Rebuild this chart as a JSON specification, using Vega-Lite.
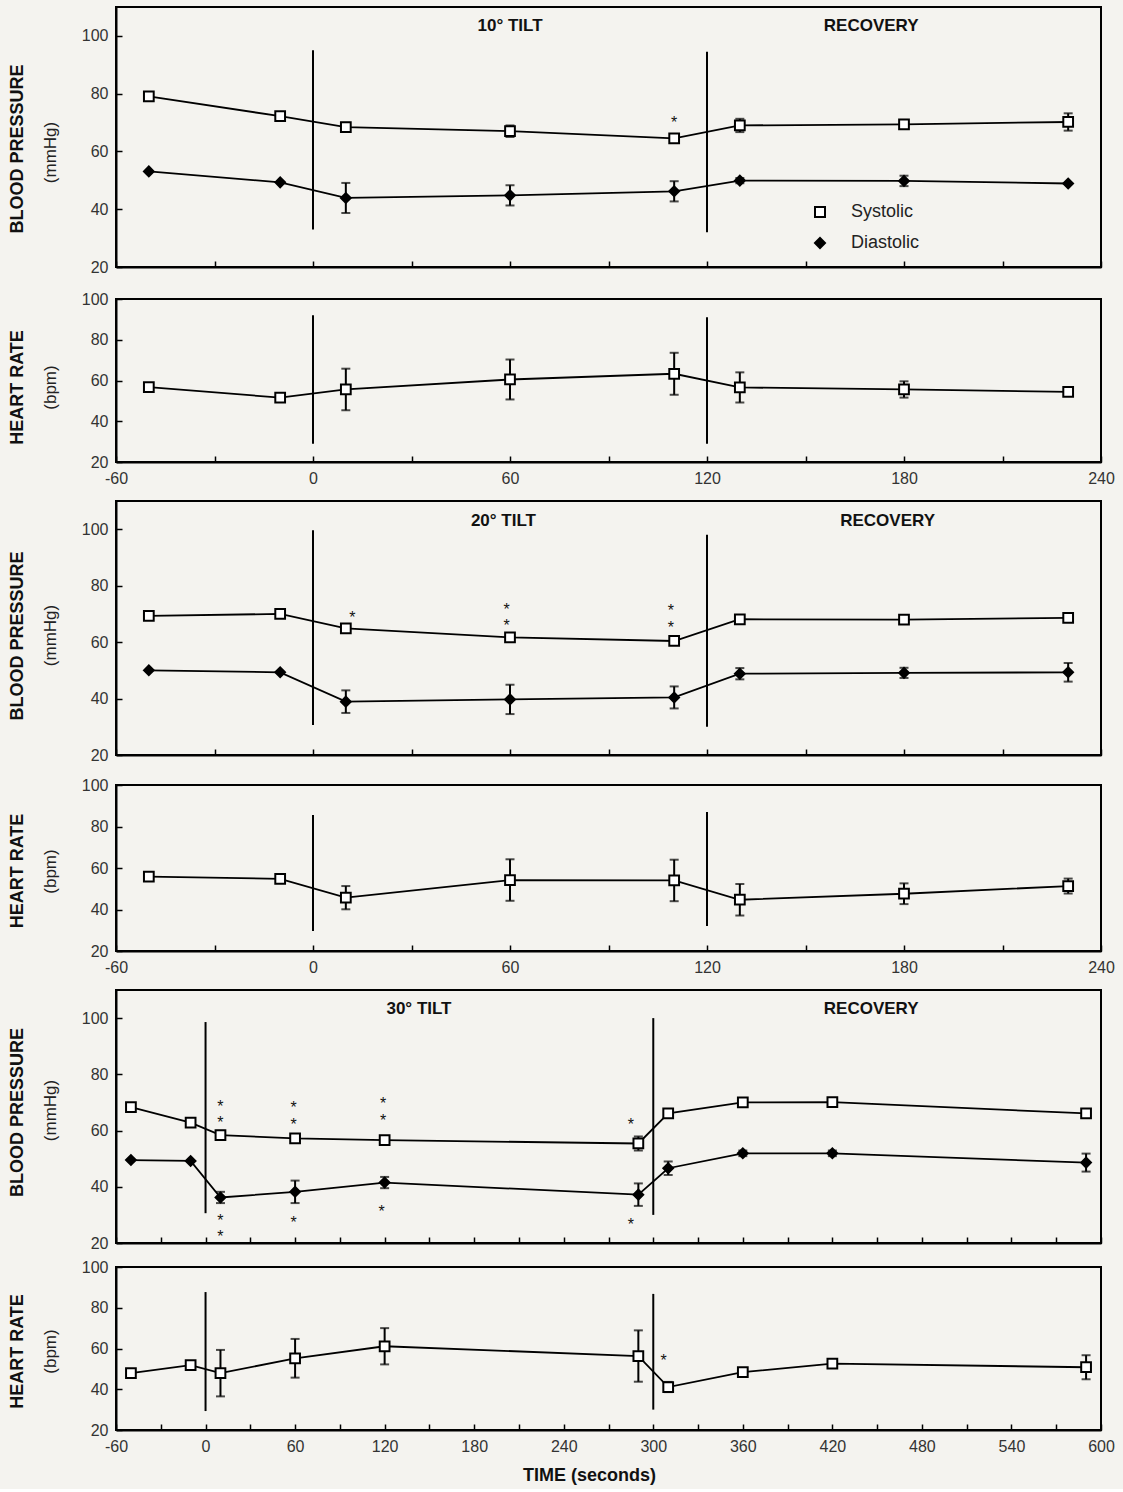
{
 "$schema": "https://vega.github.io/schema/vega-lite/v6.json",
 "background": "#f4f3ef",
 "padding": {"left": 8, "top": 6, "right": 10, "bottom": 4},
 "config": {
  "font": "Liberation Sans",
  "view": {"stroke": "black", "strokeWidth": 2},
  "axis": {"domainColor": "black", "domainWidth": 2, "tickColor": "black", "tickWidth": 1.5, "tickSize": -6, "labelPadding": 14, "labelFontSize": 16, "labelColor": "#333", "grid": false, "labelFont": "Liberation Sans", "titleFont": "Liberation Sans", "labelFlush": false, "labelOverlap": false, "titleFontWeight": "normal", "titleFontSize": 17, "titleColor": "#222", "titlePadding": 22},
  "title": {"font": "Liberation Sans", "fontSize": 18, "fontWeight": "bold", "color": "#111", "offset": 14, "orient": "left"}
 },
 "datasets": {
  "pts": [
   {"p":"bp10","s":"Systolic","t":-50,"v":79.1},
   {"p":"bp10","s":"Systolic","t":-10,"v":72.2},
   {"p":"bp10","s":"Systolic","t":10,"v":68.4,"lo":66.9,"hi":69.9},
   {"p":"bp10","s":"Systolic","t":60,"v":67,"lo":65,"hi":69},
   {"p":"bp10","s":"Systolic","t":110,"v":64.5,"lo":63.5,"hi":65.5},
   {"p":"bp10","s":"Systolic","t":130,"v":69,"lo":66.7,"hi":71.3},
   {"p":"bp10","s":"Systolic","t":180,"v":69.4,"lo":67.9,"hi":70.9},
   {"p":"bp10","s":"Systolic","t":230,"v":70.2,"lo":67.2,"hi":73.2},
   {"p":"bp10","s":"Diastolic","t":-50,"v":53.1},
   {"p":"bp10","s":"Diastolic","t":-10,"v":49.3},
   {"p":"bp10","s":"Diastolic","t":10,"v":43.9,"lo":38.7,"hi":49.1},
   {"p":"bp10","s":"Diastolic","t":60,"v":44.8,"lo":41.3,"hi":48.3},
   {"p":"bp10","s":"Diastolic","t":110,"v":46.2,"lo":42.7,"hi":49.7},
   {"p":"bp10","s":"Diastolic","t":130,"v":49.9,"lo":49,"hi":50.8},
   {"p":"bp10","s":"Diastolic","t":180,"v":49.8,"lo":48,"hi":51.6},
   {"p":"bp10","s":"Diastolic","t":230,"v":48.9},
   {"p":"hr10","s":"HR","t":-50,"v":56.7},
   {"p":"hr10","s":"HR","t":-10,"v":51.6},
   {"p":"hr10","s":"HR","t":10,"v":55.6,"lo":45.4,"hi":65.8},
   {"p":"hr10","s":"HR","t":60,"v":60.5,"lo":50.7,"hi":70.3},
   {"p":"hr10","s":"HR","t":110,"v":63.3,"lo":53,"hi":73.6},
   {"p":"hr10","s":"HR","t":130,"v":56.6,"lo":49.2,"hi":64},
   {"p":"hr10","s":"HR","t":180,"v":55.6,"lo":51.6,"hi":59.6},
   {"p":"hr10","s":"HR","t":230,"v":54.4,"lo":52.9,"hi":55.9},
   {"p":"bp20","s":"Systolic","t":-50,"v":69.3},
   {"p":"bp20","s":"Systolic","t":-10,"v":70},
   {"p":"bp20","s":"Systolic","t":10,"v":64.9},
   {"p":"bp20","s":"Systolic","t":60,"v":61.7},
   {"p":"bp20","s":"Systolic","t":110,"v":60.4,"lo":59.4,"hi":61.4},
   {"p":"bp20","s":"Systolic","t":130,"v":68.1},
   {"p":"bp20","s":"Systolic","t":180,"v":68},
   {"p":"bp20","s":"Systolic","t":230,"v":68.6},
   {"p":"bp20","s":"Diastolic","t":-50,"v":50},
   {"p":"bp20","s":"Diastolic","t":-10,"v":49.3},
   {"p":"bp20","s":"Diastolic","t":10,"v":38.9,"lo":34.9,"hi":42.9},
   {"p":"bp20","s":"Diastolic","t":60,"v":39.7,"lo":34.5,"hi":44.9},
   {"p":"bp20","s":"Diastolic","t":110,"v":40.4,"lo":36.5,"hi":44.3},
   {"p":"bp20","s":"Diastolic","t":130,"v":48.8,"lo":46.8,"hi":50.8},
   {"p":"bp20","s":"Diastolic","t":180,"v":49.1,"lo":47.3,"hi":50.9},
   {"p":"bp20","s":"Diastolic","t":230,"v":49.3,"lo":46,"hi":52.6},
   {"p":"hr20","s":"HR","t":-50,"v":55.8},
   {"p":"hr20","s":"HR","t":-10,"v":54.8},
   {"p":"hr20","s":"HR","t":10,"v":45.7,"lo":40.1,"hi":51.3},
   {"p":"hr20","s":"HR","t":60,"v":54.2,"lo":44.2,"hi":64.2},
   {"p":"hr20","s":"HR","t":110,"v":54,"lo":44,"hi":64},
   {"p":"hr20","s":"HR","t":130,"v":44.7,"lo":37.1,"hi":52.3},
   {"p":"hr20","s":"HR","t":180,"v":47.6,"lo":42.6,"hi":52.6},
   {"p":"hr20","s":"HR","t":230,"v":51.3,"lo":47.7,"hi":54.9},
   {"p":"bp30","s":"Systolic","t":-50,"v":68.3},
   {"p":"bp30","s":"Systolic","t":-10,"v":62.8},
   {"p":"bp30","s":"Systolic","t":10,"v":58.4,"lo":56.9,"hi":59.9},
   {"p":"bp30","s":"Systolic","t":60,"v":57.2,"lo":55.9,"hi":58.5},
   {"p":"bp30","s":"Systolic","t":120,"v":56.6},
   {"p":"bp30","s":"Systolic","t":290,"v":55.4,"lo":52.9,"hi":57.9},
   {"p":"bp30","s":"Systolic","t":310,"v":66.1},
   {"p":"bp30","s":"Systolic","t":360,"v":70},
   {"p":"bp30","s":"Systolic","t":420,"v":70.1},
   {"p":"bp30","s":"Systolic","t":590,"v":66.1,"lo":64.6,"hi":67.6},
   {"p":"bp30","s":"Diastolic","t":-50,"v":49.5},
   {"p":"bp30","s":"Diastolic","t":-10,"v":49.2},
   {"p":"bp30","s":"Diastolic","t":10,"v":36.2,"lo":34.2,"hi":38.2},
   {"p":"bp30","s":"Diastolic","t":60,"v":38.2,"lo":34.2,"hi":42.2},
   {"p":"bp30","s":"Diastolic","t":120,"v":41.5,"lo":39.5,"hi":43.5},
   {"p":"bp30","s":"Diastolic","t":290,"v":37.2,"lo":33.2,"hi":41.2},
   {"p":"bp30","s":"Diastolic","t":310,"v":46.6,"lo":44.2,"hi":49},
   {"p":"bp30","s":"Diastolic","t":360,"v":51.9,"lo":50.9,"hi":52.9},
   {"p":"bp30","s":"Diastolic","t":420,"v":51.9,"lo":50.9,"hi":52.9},
   {"p":"bp30","s":"Diastolic","t":590,"v":48.6,"lo":45.4,"hi":51.8},
   {"p":"hr30","s":"HR","t":-50,"v":47.9},
   {"p":"hr30","s":"HR","t":-10,"v":51.8},
   {"p":"hr30","s":"HR","t":10,"v":47.9,"lo":36.5,"hi":59.3},
   {"p":"hr30","s":"HR","t":60,"v":55.2,"lo":45.7,"hi":64.7},
   {"p":"hr30","s":"HR","t":120,"v":61.1,"lo":52.2,"hi":70},
   {"p":"hr30","s":"HR","t":290,"v":56.3,"lo":43.7,"hi":68.9},
   {"p":"hr30","s":"HR","t":310,"v":41.1,"lo":38.6,"hi":43.6},
   {"p":"hr30","s":"HR","t":360,"v":48.4,"lo":46.9,"hi":49.9},
   {"p":"hr30","s":"HR","t":420,"v":52.6},
   {"p":"hr30","s":"HR","t":590,"v":50.8,"lo":44.9,"hi":56.7}
  ],
  "bars": [
   {"p":"bp10","t":0,"y1":33,"y2":95},
   {"p":"bp10","t":120,"y1":32,"y2":94.5},
   {"p":"hr10","t":0,"y1":29,"y2":92},
   {"p":"hr10","t":120,"y1":29,"y2":91},
   {"p":"bp20","t":0,"y1":30.6,"y2":99.6},
   {"p":"bp20","t":120,"y1":30,"y2":98},
   {"p":"hr20","t":0,"y1":29.6,"y2":85.5},
   {"p":"hr20","t":120,"y1":32,"y2":87},
   {"p":"bp30","t":0,"y1":30.6,"y2":98.6},
   {"p":"bp30","t":300,"y1":30,"y2":100},
   {"p":"hr30","t":0,"y1":29.3,"y2":87.7},
   {"p":"hr30","t":300,"y1":30,"y2":86.8}
  ],
  "heads": [
   {"p":"bp10","t":60,"v":103.5,"label":"10° TILT"},
   {"p":"bp10","t":170,"v":103.5,"label":"RECOVERY"},
   {"p":"bp20","t":58,"v":103,"label":"20° TILT"},
   {"p":"bp20","t":175,"v":103,"label":"RECOVERY"},
   {"p":"bp30","t":143,"v":103.3,"label":"30° TILT"},
   {"p":"bp30","t":446,"v":103.3,"label":"RECOVERY"}
  ],
  "stars": [
   {"p":"bp10","t":110,"v":71.5},
   {"p":"bp20","t":12,"v":70.2},
   {"p":"bp20","t":59,"v":73.1},
   {"p":"bp20","t":59,"v":67.4},
   {"p":"bp20","t":109,"v":72.5},
   {"p":"bp20","t":109,"v":66.6},
   {"p":"bp30","t":10,"v":70},
   {"p":"bp30","t":10,"v":64.3},
   {"p":"bp30","t":10,"v":29.5},
   {"p":"bp30","t":10,"v":23.6},
   {"p":"bp30","t":59,"v":69.5},
   {"p":"bp30","t":59,"v":63.7},
   {"p":"bp30","t":59,"v":28.7},
   {"p":"bp30","t":119,"v":70.9},
   {"p":"bp30","t":119,"v":64.9},
   {"p":"bp30","t":118,"v":32.6},
   {"p":"bp30","t":285,"v":63.7},
   {"p":"bp30","t":285,"v":28.1},
   {"p":"hr30","t":307,"v":56.3}
  ]
 },
 "spacing": 13,
 "resolve": {"scale": {"shape": "independent", "fill": "independent", "stroke": "independent"}},
 "vconcat": [
  {
   "spacing": 14,
   "resolve": {"scale": {"shape": "independent", "fill": "independent", "stroke": "independent"}},
   "vconcat": [
    {
     "width": 985, "height": 260,
     "title": {"text": "BLOOD PRESSURE", "dx": -12},
     "layer": [
      {"data": {"name": "bars"}, "transform": [{"filter": "datum.p == 'bp10'"}],
       "mark": {"type": "rule", "color": "black", "strokeWidth": 2},
       "encoding": {
        "x": {"field": "t", "type": "quantitative", "scale": {"domain": [-60, 240], "nice": false, "zero": false}, "axis": {"values": [-60,-30,0,30,60,90,120,150,180,210,240], "labels": false, "title": null}},
        "y": {"field": "y1", "type": "quantitative", "title": "(mmHg)", "scale": {"domain": [20, 110], "nice": false, "zero": false}, "axis": {"values": [20,30,40,50,60,70,80,90,100], "labelOverlap": false, "labelExpr": "datum.value % 20 === 0 ? '' + datum.value : ''", "title": "(mmHg)", "titleY": 145}},
        "y2": {"field": "y2"}}},
      {"data": {"name": "pts"}, "transform": [{"filter": "datum.p == 'bp10' && isValid(datum.lo)"}],
       "mark": {"type": "errorbar", "ticks": {"size": 9, "thickness": 2, "color": "black"}, "rule": {"strokeWidth": 2, "color": "black"}},
       "encoding": {"x": {"field": "t", "type": "quantitative"}, "y": {"field": "lo", "type": "quantitative", "title": "(mmHg)"}, "y2": {"field": "hi"}}},
      {"data": {"name": "pts"}, "transform": [{"filter": "datum.p == 'bp10'"}],
       "mark": {"type": "line", "color": "black", "strokeWidth": 1.8},
       "encoding": {"x": {"field": "t", "type": "quantitative"}, "y": {"field": "v", "type": "quantitative", "title": "(mmHg)"}, "detail": {"field": "s"}}},
      {"data": {"name": "pts"}, "transform": [{"filter": "datum.p == 'bp10'"}],
       "mark": {"type": "point", "filled": true, "strokeWidth": 2, "size": 95, "opacity": 1},
       "encoding": {"x": {"field": "t", "type": "quantitative"}, "y": {"field": "v", "type": "quantitative", "title": "(mmHg)"},
        "shape": {"field": "s", "type": "nominal", "scale": {"domain": ["Systolic", "Diastolic"], "range": ["square", "diamond"]}, "legend": {"orient": "none", "legendX": 695, "legendY": 196, "title": null, "labelFontSize": 18, "labelColor": "#222", "symbolSize": 100, "symbolStrokeWidth": 2, "rowPadding": 13, "labelOffset": 22}},
        "fill": {"field": "s", "type": "nominal", "scale": {"domain": ["Systolic", "Diastolic"], "range": ["white", "black"]}, "legend": {"orient": "none", "legendX": 695, "legendY": 196, "title": null, "labelFontSize": 18, "labelColor": "#222", "symbolSize": 100, "symbolStrokeWidth": 2, "rowPadding": 13, "labelOffset": 22}},
        "stroke": {"field": "s", "type": "nominal", "scale": {"domain": ["Systolic", "Diastolic"], "range": ["black", "black"]}, "legend": {"orient": "none", "legendX": 695, "legendY": 196, "title": null, "labelFontSize": 18, "labelColor": "#222", "symbolSize": 100, "symbolStrokeWidth": 2, "rowPadding": 13, "labelOffset": 22}}}},
      {"data": {"name": "heads"}, "transform": [{"filter": "datum.p == 'bp10'"}],
       "mark": {"type": "text", "fontWeight": "bold", "fontSize": 17, "color": "#111"},
       "encoding": {"x": {"field": "t", "type": "quantitative"}, "y": {"field": "v", "type": "quantitative", "title": "(mmHg)"}, "text": {"field": "label"}}},
      {"data": {"name": "stars"}, "transform": [{"filter": "datum.p == 'bp10'"}],
       "mark": {"type": "text", "fontSize": 16, "dy": 4.5, "color": "#111"},
       "encoding": {"x": {"field": "t", "type": "quantitative"}, "y": {"field": "v", "type": "quantitative", "title": "(mmHg)"}, "text": {"value": "*"}}}
     ]
    },
    {
     "width": 985, "height": 163,
     "title": {"text": "HEART RATE", "dx": -7},
     "layer": [
      {"data": {"name": "bars"}, "transform": [{"filter": "datum.p == 'hr10'"}],
       "mark": {"type": "rule", "color": "black", "strokeWidth": 2},
       "encoding": {
        "x": {"field": "t", "type": "quantitative", "scale": {"domain": [-60, 240], "nice": false, "zero": false}, "axis": {"values": [-60,-30,0,30,60,90,120,150,180,210,240], "labelOverlap": false, "labelExpr": "datum.value % 60 === 0 ? '' + datum.value : ''", "title": null}},
        "y": {"field": "y1", "type": "quantitative", "title": "(bpm)", "scale": {"domain": [20, 100], "nice": false, "zero": false}, "axis": {"values": [20,30,40,50,60,70,80,90,100], "labelOverlap": false, "labelExpr": "datum.value % 20 === 0 ? '' + datum.value : ''", "title": "(bpm)", "titleY": 88}},
        "y2": {"field": "y2"}}},
      {"data": {"name": "pts"}, "transform": [{"filter": "datum.p == 'hr10' && isValid(datum.lo)"}],
       "mark": {"type": "errorbar", "ticks": {"size": 9, "thickness": 2, "color": "black"}, "rule": {"strokeWidth": 2, "color": "black"}},
       "encoding": {"x": {"field": "t", "type": "quantitative"}, "y": {"field": "lo", "type": "quantitative", "title": "(bpm)"}, "y2": {"field": "hi"}}},
      {"data": {"name": "pts"}, "transform": [{"filter": "datum.p == 'hr10'"}],
       "mark": {"type": "line", "color": "black", "strokeWidth": 1.8},
       "encoding": {"x": {"field": "t", "type": "quantitative"}, "y": {"field": "v", "type": "quantitative", "title": "(bpm)"}}},
      {"data": {"name": "pts"}, "transform": [{"filter": "datum.p == 'hr10'"}],
       "mark": {"type": "point", "shape": "square", "filled": true, "fill": "white", "stroke": "black", "strokeWidth": 2, "size": 95, "opacity": 1},
       "encoding": {"x": {"field": "t", "type": "quantitative"}, "y": {"field": "v", "type": "quantitative", "title": "(bpm)"}}}
     ]
    }
   ]
  },
  {
   "spacing": 12,
   "resolve": {"scale": {"shape": "independent", "fill": "independent", "stroke": "independent"}},
   "vconcat": [
    {
     "width": 985, "height": 254,
     "title": {"text": "BLOOD PRESSURE", "dx": -8},
     "layer": [
      {"data": {"name": "bars"}, "transform": [{"filter": "datum.p == 'bp20'"}],
       "mark": {"type": "rule", "color": "black", "strokeWidth": 2},
       "encoding": {
        "x": {"field": "t", "type": "quantitative", "scale": {"domain": [-60, 240], "nice": false, "zero": false}, "axis": {"values": [-60,-30,0,30,60,90,120,150,180,210,240], "labels": false, "title": null}},
        "y": {"field": "y1", "type": "quantitative", "title": "(mmHg)", "scale": {"domain": [20, 110], "nice": false, "zero": false}, "axis": {"values": [20,30,40,50,60,70,80,90,100], "labelOverlap": false, "labelExpr": "datum.value % 20 === 0 ? '' + datum.value : ''", "title": "(mmHg)", "titleY": 134}},
        "y2": {"field": "y2"}}},
      {"data": {"name": "pts"}, "transform": [{"filter": "datum.p == 'bp20' && isValid(datum.lo)"}],
       "mark": {"type": "errorbar", "ticks": {"size": 9, "thickness": 2, "color": "black"}, "rule": {"strokeWidth": 2, "color": "black"}},
       "encoding": {"x": {"field": "t", "type": "quantitative"}, "y": {"field": "lo", "type": "quantitative", "title": "(mmHg)"}, "y2": {"field": "hi"}}},
      {"data": {"name": "pts"}, "transform": [{"filter": "datum.p == 'bp20'"}],
       "mark": {"type": "line", "color": "black", "strokeWidth": 1.8},
       "encoding": {"x": {"field": "t", "type": "quantitative"}, "y": {"field": "v", "type": "quantitative", "title": "(mmHg)"}, "detail": {"field": "s"}}},
      {"data": {"name": "pts"}, "transform": [{"filter": "datum.p == 'bp20'"}],
       "mark": {"type": "point", "filled": true, "stroke": "black", "strokeWidth": 2, "size": 95, "opacity": 1},
       "encoding": {"x": {"field": "t", "type": "quantitative"}, "y": {"field": "v", "type": "quantitative", "title": "(mmHg)"},
        "shape": {"field": "s", "type": "nominal", "scale": {"domain": ["Systolic", "Diastolic"], "range": ["square", "diamond"]}, "legend": null},
        "fill": {"field": "s", "type": "nominal", "scale": {"domain": ["Systolic", "Diastolic"], "range": ["white", "black"]}, "legend": null}}},
      {"data": {"name": "heads"}, "transform": [{"filter": "datum.p == 'bp20'"}],
       "mark": {"type": "text", "fontWeight": "bold", "fontSize": 17, "color": "#111"},
       "encoding": {"x": {"field": "t", "type": "quantitative"}, "y": {"field": "v", "type": "quantitative", "title": "(mmHg)"}, "text": {"field": "label"}}},
      {"data": {"name": "stars"}, "transform": [{"filter": "datum.p == 'bp20'"}],
       "mark": {"type": "text", "fontSize": 16, "dy": 4.5, "color": "#111"},
       "encoding": {"x": {"field": "t", "type": "quantitative"}, "y": {"field": "v", "type": "quantitative", "title": "(mmHg)"}, "text": {"value": "*"}}}
     ]
    },
    {
     "width": 985, "height": 166,
     "title": {"text": "HEART RATE", "dx": -3},
     "layer": [
      {"data": {"name": "bars"}, "transform": [{"filter": "datum.p == 'hr20'"}],
       "mark": {"type": "rule", "color": "black", "strokeWidth": 2},
       "encoding": {
        "x": {"field": "t", "type": "quantitative", "scale": {"domain": [-60, 240], "nice": false, "zero": false}, "axis": {"values": [-60,-30,0,30,60,90,120,150,180,210,240], "labelOverlap": false, "labelExpr": "datum.value % 60 === 0 ? '' + datum.value : ''", "title": null}},
        "y": {"field": "y1", "type": "quantitative", "title": "(bpm)", "scale": {"domain": [20, 100], "nice": false, "zero": false}, "axis": {"values": [20,30,40,50,60,70,80,90,100], "labelOverlap": false, "labelExpr": "datum.value % 20 === 0 ? '' + datum.value : ''", "title": "(bpm)", "titleY": 86}},
        "y2": {"field": "y2"}}},
      {"data": {"name": "pts"}, "transform": [{"filter": "datum.p == 'hr20' && isValid(datum.lo)"}],
       "mark": {"type": "errorbar", "ticks": {"size": 9, "thickness": 2, "color": "black"}, "rule": {"strokeWidth": 2, "color": "black"}},
       "encoding": {"x": {"field": "t", "type": "quantitative"}, "y": {"field": "lo", "type": "quantitative", "title": "(bpm)"}, "y2": {"field": "hi"}}},
      {"data": {"name": "pts"}, "transform": [{"filter": "datum.p == 'hr20'"}],
       "mark": {"type": "line", "color": "black", "strokeWidth": 1.8},
       "encoding": {"x": {"field": "t", "type": "quantitative"}, "y": {"field": "v", "type": "quantitative", "title": "(bpm)"}}},
      {"data": {"name": "pts"}, "transform": [{"filter": "datum.p == 'hr20'"}],
       "mark": {"type": "point", "shape": "square", "filled": true, "fill": "white", "stroke": "black", "strokeWidth": 2, "size": 95, "opacity": 1},
       "encoding": {"x": {"field": "t", "type": "quantitative"}, "y": {"field": "v", "type": "quantitative", "title": "(bpm)"}}}
     ]
    }
   ]
  },
  {
   "spacing": 6,
   "resolve": {"scale": {"shape": "independent", "fill": "independent", "stroke": "independent"}},
   "vconcat": [
    {
     "width": 985, "height": 253,
     "title": {"text": "BLOOD PRESSURE", "dx": 4},
     "layer": [
      {"data": {"name": "bars"}, "transform": [{"filter": "datum.p == 'bp30'"}],
       "mark": {"type": "rule", "color": "black", "strokeWidth": 2},
       "encoding": {
        "x": {"field": "t", "type": "quantitative", "scale": {"domain": [-60, 600], "nice": false, "zero": false}, "axis": {"values": [-60,-30,0,30,60,90,120,150,180,210,240,270,300,330,360,390,420,450,480,510,540,570,600], "labels": false, "title": null}},
        "y": {"field": "y1", "type": "quantitative", "title": "(mmHg)", "scale": {"domain": [20, 110], "nice": false, "zero": false}, "axis": {"values": [20,30,40,50,60,70,80,90,100], "labelOverlap": false, "labelExpr": "datum.value % 20 === 0 ? '' + datum.value : ''", "title": "(mmHg)", "titleY": 120}},
        "y2": {"field": "y2"}}},
      {"data": {"name": "pts"}, "transform": [{"filter": "datum.p == 'bp30' && isValid(datum.lo)"}],
       "mark": {"type": "errorbar", "ticks": {"size": 9, "thickness": 2, "color": "black"}, "rule": {"strokeWidth": 2, "color": "black"}},
       "encoding": {"x": {"field": "t", "type": "quantitative"}, "y": {"field": "lo", "type": "quantitative", "title": "(mmHg)"}, "y2": {"field": "hi"}}},
      {"data": {"name": "pts"}, "transform": [{"filter": "datum.p == 'bp30'"}],
       "mark": {"type": "line", "color": "black", "strokeWidth": 1.8},
       "encoding": {"x": {"field": "t", "type": "quantitative"}, "y": {"field": "v", "type": "quantitative", "title": "(mmHg)"}, "detail": {"field": "s"}}},
      {"data": {"name": "pts"}, "transform": [{"filter": "datum.p == 'bp30'"}],
       "mark": {"type": "point", "filled": true, "stroke": "black", "strokeWidth": 2, "size": 95, "opacity": 1},
       "encoding": {"x": {"field": "t", "type": "quantitative"}, "y": {"field": "v", "type": "quantitative", "title": "(mmHg)"},
        "shape": {"field": "s", "type": "nominal", "scale": {"domain": ["Systolic", "Diastolic"], "range": ["square", "diamond"]}, "legend": null},
        "fill": {"field": "s", "type": "nominal", "scale": {"domain": ["Systolic", "Diastolic"], "range": ["white", "black"]}, "legend": null}}},
      {"data": {"name": "heads"}, "transform": [{"filter": "datum.p == 'bp30'"}],
       "mark": {"type": "text", "fontWeight": "bold", "fontSize": 17, "color": "#111"},
       "encoding": {"x": {"field": "t", "type": "quantitative"}, "y": {"field": "v", "type": "quantitative", "title": "(mmHg)"}, "text": {"field": "label"}}},
      {"data": {"name": "stars"}, "transform": [{"filter": "datum.p == 'bp30'"}],
       "mark": {"type": "text", "fontSize": 16, "dy": 4.5, "color": "#111"},
       "encoding": {"x": {"field": "t", "type": "quantitative"}, "y": {"field": "v", "type": "quantitative", "title": "(mmHg)"}, "text": {"value": "*"}}}
     ]
    },
    {
     "width": 985, "height": 163,
     "title": {"text": "HEART RATE", "dx": -3},
     "layer": [
      {"data": {"name": "bars"}, "transform": [{"filter": "datum.p == 'hr30'"}],
       "mark": {"type": "rule", "color": "black", "strokeWidth": 2},
       "encoding": {
        "x": {"field": "t", "type": "quantitative", "title": "TIME (seconds)", "scale": {"domain": [-60, 600], "nice": false, "zero": false}, "axis": {"values": [-60,-30,0,30,60,90,120,150,180,210,240,270,300,330,360,390,420,450,480,510,540,570,600], "labelOverlap": false, "labelExpr": "datum.value % 60 === 0 ? '' + datum.value : ''", "title": "TIME (seconds)", "titleFontWeight": "bold", "titleFontSize": 18, "titleColor": "#111", "titlePadding": 12, "titleX": 473}},
        "y": {"field": "y1", "type": "quantitative", "title": "(bpm)", "scale": {"domain": [20, 100], "nice": false, "zero": false}, "axis": {"values": [20,30,40,50,60,70,80,90,100], "labelOverlap": false, "labelExpr": "datum.value % 20 === 0 ? '' + datum.value : ''", "title": "(bpm)", "titleY": 84}},
        "y2": {"field": "y2"}}},
      {"data": {"name": "pts"}, "transform": [{"filter": "datum.p == 'hr30' && isValid(datum.lo)"}],
       "mark": {"type": "errorbar", "ticks": {"size": 9, "thickness": 2, "color": "black"}, "rule": {"strokeWidth": 2, "color": "black"}},
       "encoding": {"x": {"field": "t", "type": "quantitative", "title": "TIME (seconds)"}, "y": {"field": "lo", "type": "quantitative", "title": "(bpm)"}, "y2": {"field": "hi"}}},
      {"data": {"name": "pts"}, "transform": [{"filter": "datum.p == 'hr30'"}],
       "mark": {"type": "line", "color": "black", "strokeWidth": 1.8},
       "encoding": {"x": {"field": "t", "type": "quantitative", "title": "TIME (seconds)"}, "y": {"field": "v", "type": "quantitative", "title": "(bpm)"}}},
      {"data": {"name": "pts"}, "transform": [{"filter": "datum.p == 'hr30'"}],
       "mark": {"type": "point", "shape": "square", "filled": true, "fill": "white", "stroke": "black", "strokeWidth": 2, "size": 95, "opacity": 1},
       "encoding": {"x": {"field": "t", "type": "quantitative", "title": "TIME (seconds)"}, "y": {"field": "v", "type": "quantitative", "title": "(bpm)"}}},
      {"data": {"name": "stars"}, "transform": [{"filter": "datum.p == 'hr30'"}],
       "mark": {"type": "text", "fontSize": 16, "dy": 4.5, "color": "#111"},
       "encoding": {"x": {"field": "t", "type": "quantitative", "title": "TIME (seconds)"}, "y": {"field": "v", "type": "quantitative", "title": "(bpm)"}, "text": {"value": "*"}}}
     ]
    }
   ]
  }
 ]
}
